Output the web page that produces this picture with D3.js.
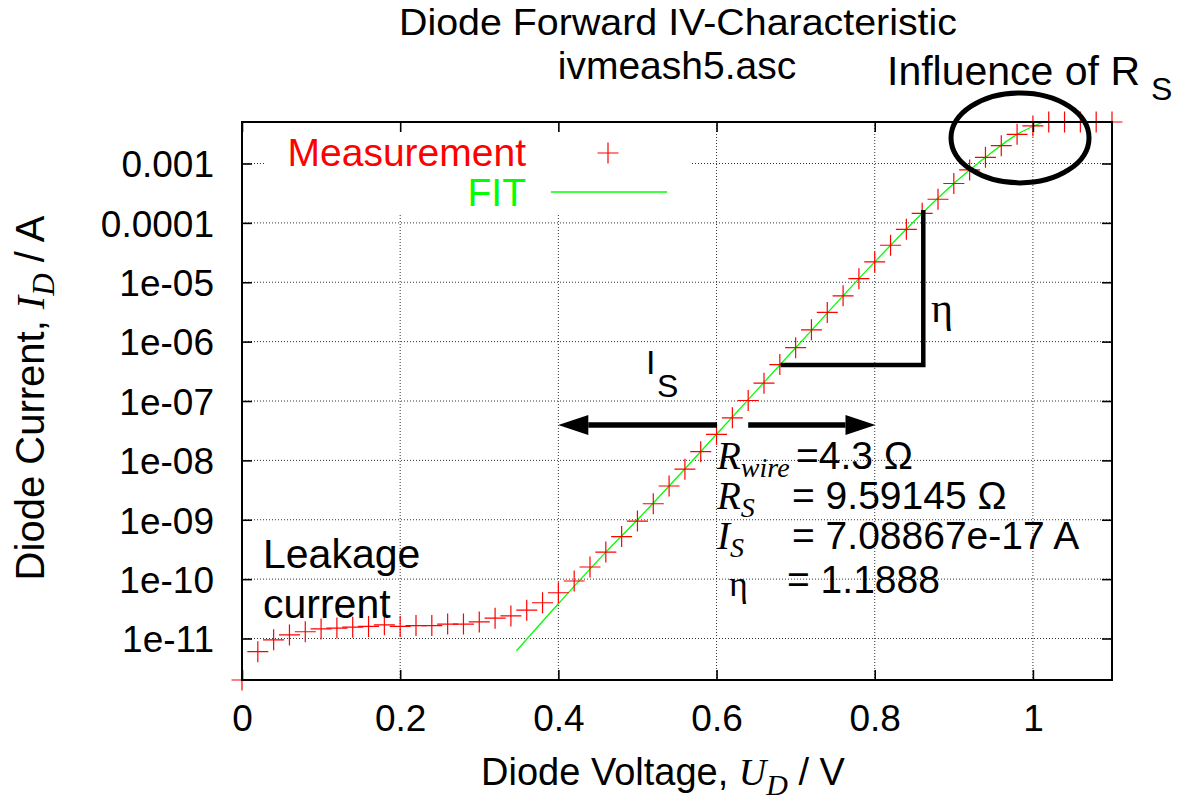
<!DOCTYPE html>
<html>
<head>
<meta charset="utf-8">
<script src="https://d3js.org/d3.v7.min.js"></script>
<style>
  body { margin: 0; background: #fff; }
  text { font-family: "Liberation Sans", Arial, Helvetica, sans-serif; fill: #000; }
  .it { font-family: "Liberation Serif", "Times New Roman", serif; font-style: italic; }
  .sym { font-family: "Liberation Serif", "Times New Roman", serif; }
</style>
</head>
<body>
<svg id="chart" width="1179" height="805"></svg>
<script>
// measurement: diode voltage (V) and current (A)
var measV = [0, 0.02, 0.04, 0.06, 0.08, 0.10, 0.12, 0.14, 0.16, 0.18,
             0.20, 0.22, 0.24, 0.26, 0.28, 0.30, 0.32, 0.34, 0.36, 0.38,
             0.40, 0.42, 0.44, 0.46, 0.48, 0.50, 0.52, 0.54, 0.56, 0.58,
             0.60, 0.62, 0.64, 0.66, 0.68, 0.70, 0.72, 0.74, 0.76, 0.78,
             0.80, 0.82, 0.84, 0.86, 0.88, 0.90, 0.92, 0.94, 0.96, 0.98,
             1.00, 1.02, 1.04, 1.06, 1.08, 1.10];
var measI = [2e-12, 6.0e-12, 9.5e-12, 1.15e-11, 1.3e-11, 1.45e-11, 1.5e-11, 1.55e-11, 1.6e-11, 1.7e-11,
             1.6e-11, 1.65e-11, 1.65e-11, 1.75e-11, 1.75e-11, 1.9e-11, 2.2e-11, 2.4e-11, 3.0e-11, 4.0e-11,
             5.9e-11, 9.3e-11, 1.6e-10, 2.85e-10, 5.2e-10, 9.5e-10, 1.86e-9, 3.7e-9, 7.1e-9, 1.4e-8,
             2.75e-8, 5.2e-8, 1.02e-7, 2.0e-7, 4.1e-7, 7.9e-7, 1.58e-6, 3.1e-6, 5.9e-6, 1.15e-5,
             2.2e-5, 4.2e-5, 7.8e-5, 1.45e-4, 2.5e-4, 4.6e-4, 7.8e-4, 1.27e-3, 2.0e-3, 3.1e-3,
             4.3e-3, 5e-3, 5e-3, 5e-3, 5e-3, 5e-3];

// fitted curve
var fitV = [0.347, 0.40, 0.46, 0.50, 0.60, 0.70, 0.80, 0.86, 0.90, 0.94, 0.98, 1.013];
var fitI = [6.2e-12, 3.85e-11, 2.85e-10, 1.0e-9, 2.75e-8, 7.9e-7, 2.2e-5, 1.45e-4, 4.6e-4, 1.27e-3, 3.1e-3, 5.0e-3];

var xTicks = [0, 0.2, 0.4, 0.6, 0.8, 1];
var xTickLabels = ["0", "0.2", "0.4", "0.6", "0.8", "1"];
var yTicks = [1e-11, 1e-10, 1e-9, 1e-8, 1e-7, 1e-6, 1e-5, 1e-4, 1e-3];
var yTickLabels = ["1e-11", "1e-10", "1e-09", "1e-08", "1e-07", "1e-06", "1e-05", "0.0001", "0.001"];

var svg = d3.select("#chart"),
    margin = {top: 122, right: 67, bottom: 125, left: 242},
    width = 1179 - margin.left - margin.right,
    height = 805 - margin.top - margin.bottom;

var x = d3.scaleLinear().domain([0, 1.1]).range([0, width]);
var y = d3.scaleLog().domain([2e-12, 5e-3]).range([height, 0]);

var g = svg.append("g")
    .attr("transform", "translate(" + margin.left + "," + margin.top + ")");

// grid
g.selectAll(".gx").data(xTicks.slice(1)).enter().append("line")
    .attr("x1", function(d) { return x(d); }).attr("x2", function(d) { return x(d); })
    .attr("y1", 0).attr("y2", height)
    .attr("stroke", "#333").attr("stroke-width", 1).attr("stroke-dasharray", "1,2");
g.selectAll(".gy").data(yTicks).enter().append("line")
    .attr("x1", 0).attr("x2", width)
    .attr("y1", function(d) { return y(d); }).attr("y2", function(d) { return y(d); })
    .attr("stroke", "#333").attr("stroke-width", 1).attr("stroke-dasharray", "1,2");

// key background hides the grid
g.append("rect").attr("x", 24).attr("y", 1).attr("width", 424).attr("height", 90).attr("fill", "#fff");

// fit line
var fit = fitV.map(function(v, i) { return {v: v, i: fitI[i]}; });
g.append("path").datum(fit)
    .attr("fill", "none").attr("stroke", "#00ff00").attr("stroke-width", 1.3)
    .attr("d", d3.line().curve(d3.curveMonotoneX)
        .x(function(d) { return x(d.v); })
        .y(function(d) { return y(d.i); }));

// measurement points
var meas = measV.map(function(v, i) { return {v: v, i: measI[i]}; });
var plus = "M-10.5,0H10.5M0,-10.5V10.5";
g.selectAll(".pt").data(meas).enter().append("path")
    .attr("transform", function(d) { return "translate(" + x(d.v) + "," + y(d.i) + ")"; })
    .attr("d", plus).attr("stroke", "#ff0000").attr("stroke-width", 1.2).attr("fill", "none");

// axes with inward ticks
var ax = g.append("g").attr("transform", "translate(0," + height + ")")
    .call(d3.axisBottom(x).tickValues(xTicks).tickFormat(function(d, i) { return xTickLabels[i]; })
        .tickSize(-10).tickPadding(25));
var ay = g.append("g")
    .call(d3.axisLeft(y).tickValues(yTicks).tickFormat(function(d, i) { return yTickLabels[i]; })
        .tickSize(-10).tickPadding(28));
g.append("g").call(d3.axisTop(x).tickValues(xTicks).tickFormat("").tickSize(-10));
g.append("g").attr("transform", "translate(" + width + ",0)")
    .call(d3.axisRight(y).tickValues(yTicks).tickFormat("").tickSize(-10));
g.selectAll(".domain").remove();
g.selectAll(".tick line").attr("stroke", "#000").attr("stroke-width", 1.6);
g.selectAll(".tick text").style("font-size", "37px").style("font-family", "Liberation Sans, Arial, sans-serif");
ay.selectAll(".tick text").attr("dy", "0.36em");

g.append("rect").attr("width", width).attr("height", height)
    .attr("fill", "none").attr("stroke", "#000").attr("stroke-width", 2);

// key
g.append("text").attr("x", 284).attr("y", 44).attr("text-anchor", "end")
    .style("font-size", "39px").style("fill", "#ff0000").text("Measurement");
g.append("path").attr("transform", "translate(366,31)").attr("d", plus)
    .attr("stroke", "#ff0000").attr("stroke-width", 1.2);
g.append("text").attr("x", 284).attr("y", 84).attr("text-anchor", "end")
    .style("font-size", "39px").style("fill", "#00ff00").text("FIT");
g.append("line").attr("x1", 309).attr("x2", 425).attr("y1", 70).attr("y2", 70)
    .attr("stroke", "#00ff00").attr("stroke-width", 1.3);

// titles
svg.append("text").attr("x", 678).attr("y", 35).attr("text-anchor", "middle")
    .attr("textLength", 558).attr("lengthAdjust", "spacingAndGlyphs")
    .style("font-size", "37px").text("Diode Forward IV-Characteristic");
svg.append("text").attr("x", 677).attr("y", 79).attr("text-anchor", "middle")
    .style("font-size", "39px").text("ivmeash5.asc");

// axis labels
var xl = svg.append("text").attr("x", 663).attr("y", 785).attr("text-anchor", "middle").style("font-size", "38px");
xl.append("tspan").text("Diode Voltage, ");
xl.append("tspan").attr("class", "it").text("U");
xl.append("tspan").attr("class", "it").attr("dy", 10).style("font-size", "30px").text("D");
xl.append("tspan").attr("dy", -10).text(" / V");

var yl = svg.append("text").attr("transform", "translate(44,398) rotate(-90)")
    .attr("text-anchor", "middle").style("font-size", "40px");
yl.append("tspan").text("Diode Current, ");
yl.append("tspan").attr("class", "it").text("I");
yl.append("tspan").attr("class", "it").attr("dy", 10).style("font-size", "31px").text("D");
yl.append("tspan").attr("dy", -10).text(" / A");

// annotations
var ink = "#000";
svg.append("text").attr("x", 887).attr("y", 85).style("font-size", "41px").text("Influence of R");
svg.append("text").attr("x", 1151).attr("y", 100).style("font-size", "32px").text("S");
g.append("ellipse").attr("cx", x(0.9837)).attr("cy", y(2.7e-3)).attr("rx", 69).attr("ry", 45)
    .attr("fill", "none").attr("stroke", ink).attr("stroke-width", 5);

// eta step
g.append("path")
    .attr("d", "M" + x(0.681) + "," + y(4.05e-7) + "H" + x(0.8614) + "V" + y(1.65e-4))
    .attr("fill", "none").attr("stroke", ink).attr("stroke-width", 4.5);
svg.append("text").attr("class", "sym").attr("x", 931).attr("y", 322)
    .style("font-size", "42px").text("η");

// I_S arrows
function arrow(x0, x1, yv) {
  var y0 = y(yv), dir = x1 > x0 ? 1 : -1, head = 30;
  g.append("line").attr("x1", x(x0)).attr("x2", x(x1) - dir * head)
      .attr("y1", y0).attr("y2", y0).attr("stroke", ink).attr("stroke-width", 5.5);
  g.append("path")
      .attr("d", "M" + x(x1) + "," + y0 + "L" + (x(x1) - dir * head) + "," + (y0 - 10) +
                 "L" + (x(x1) - dir * head) + "," + (y0 + 10) + "Z")
      .attr("fill", ink);
}
arrow(0.6006, 0.3999, 3.95e-8);
arrow(0.640, 0.801, 3.95e-8);
svg.append("text").attr("x", 646).attr("y", 374).style("font-size", "34px").text("I");
svg.append("text").attr("x", 657).attr("y", 397).style("font-size", "32px").text("S");

// parameter block
function param(yb, main, sub, rest, restX) {
  var t = svg.append("text").attr("x", 717).attr("y", yb).style("font-size", "39px");
  t.append("tspan").attr("class", "it").text(main);
  t.append("tspan").attr("class", "it").attr("dy", 8).style("font-size", "28px").text(sub);
  svg.append("text").attr("x", restX).attr("y", yb).style("font-size", "39px").text(rest);
}
param(469, "R", "wire", "=4.3 Ω", 796);
param(509, "R", "S", "= 9.59145 Ω", 792);
param(549, "I", "S", "= 7.08867e-17 A", 792);
svg.append("text").attr("class", "sym").attr("x", 729).attr("y", 596).style("font-size", "36px").text("η");
svg.append("text").attr("x", 787).attr("y", 593).style("font-size", "39px").text("= 1.1888");

// leakage label
svg.append("text").attr("x", 263).attr("y", 568).style("font-size", "41px").text("Leakage");
svg.append("text").attr("x", 263).attr("y", 618).style("font-size", "41px").text("current");
</script>
</body>
</html>
